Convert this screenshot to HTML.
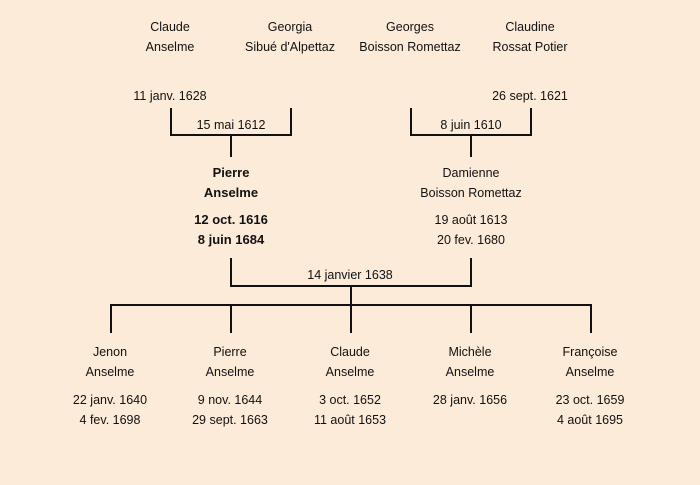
<!DOCTYPE html>
<html><head><meta charset="utf-8"><style>
html,body{margin:0;padding:0;}
body{width:700px;height:485px;background:#fcebd9;position:relative;overflow:hidden;font-family:"Liberation Sans","DejaVu Sans",sans-serif;font-size:12.5px;color:#111;}
.t{position:absolute;width:160px;margin-left:-80px;text-align:center;line-height:20px;white-space:nowrap;}
.b{font-weight:bold;font-size:13px;}
.l{position:absolute;background:#111;}
</style></head><body>
<div class="t" style="left:170px;top:17px">Claude<br>Anselme</div>
<div class="t" style="left:290px;top:17px">Georgia<br>Sibué d'Alpettaz</div>
<div class="t" style="left:410px;top:17px">Georges<br>Boisson Romettaz</div>
<div class="t" style="left:530px;top:17px">Claudine<br>Rossat Potier</div>
<div class="t" style="left:170px;top:86px">11 janv. 1628</div>
<div class="t" style="left:530px;top:86px">26 sept. 1621</div>
<div class="t" style="left:231px;top:115px">15 mai 1612</div>
<div class="t" style="left:471px;top:115px">8 juin 1610</div>
<div class="l" style="left:170px;top:108px;width:2px;height:28px"></div>
<div class="l" style="left:290px;top:108px;width:2px;height:28px"></div>
<div class="l" style="left:170px;top:134px;width:122px;height:2px"></div>
<div class="l" style="left:230px;top:134px;width:2px;height:23px"></div>
<div class="l" style="left:410px;top:108px;width:2px;height:28px"></div>
<div class="l" style="left:530px;top:108px;width:2px;height:28px"></div>
<div class="l" style="left:410px;top:134px;width:122px;height:2px"></div>
<div class="l" style="left:470px;top:134px;width:2px;height:23px"></div>
<div class="t b" style="left:231px;top:163px">Pierre<br>Anselme</div>
<div class="t b" style="left:231px;top:210px">12 oct. 1616<br>8 juin 1684</div>
<div class="t" style="left:471px;top:163px">Damienne<br>Boisson Romettaz</div>
<div class="t" style="left:471px;top:210px">19 août 1613<br>20 fev. 1680</div>
<div class="l" style="left:230px;top:258px;width:2px;height:29px"></div>
<div class="l" style="left:470px;top:258px;width:2px;height:29px"></div>
<div class="l" style="left:230px;top:285px;width:242px;height:2px"></div>
<div class="t" style="left:350px;top:265px">14 janvier 1638</div>
<div class="l" style="left:350px;top:285px;width:2px;height:21px"></div>
<div class="l" style="left:110px;top:304px;width:482px;height:2px"></div>
<div class="l" style="left:110px;top:304px;width:2px;height:29px"></div>
<div class="l" style="left:230px;top:304px;width:2px;height:29px"></div>
<div class="l" style="left:350px;top:304px;width:2px;height:29px"></div>
<div class="l" style="left:470px;top:304px;width:2px;height:29px"></div>
<div class="l" style="left:590px;top:304px;width:2px;height:29px"></div>
<div class="t" style="left:110px;top:342px">Jenon<br>Anselme</div>
<div class="t" style="left:230px;top:342px">Pierre<br>Anselme</div>
<div class="t" style="left:350px;top:342px">Claude<br>Anselme</div>
<div class="t" style="left:470px;top:342px">Michèle<br>Anselme</div>
<div class="t" style="left:590px;top:342px">Françoise<br>Anselme</div>
<div class="t" style="left:110px;top:390px">22 janv. 1640<br>4 fev. 1698</div>
<div class="t" style="left:230px;top:390px">9 nov. 1644<br>29 sept. 1663</div>
<div class="t" style="left:350px;top:390px">3 oct. 1652<br>11 août 1653</div>
<div class="t" style="left:470px;top:390px">28 janv. 1656</div>
<div class="t" style="left:590px;top:390px">23 oct. 1659<br>4 août 1695</div>
</body></html>
